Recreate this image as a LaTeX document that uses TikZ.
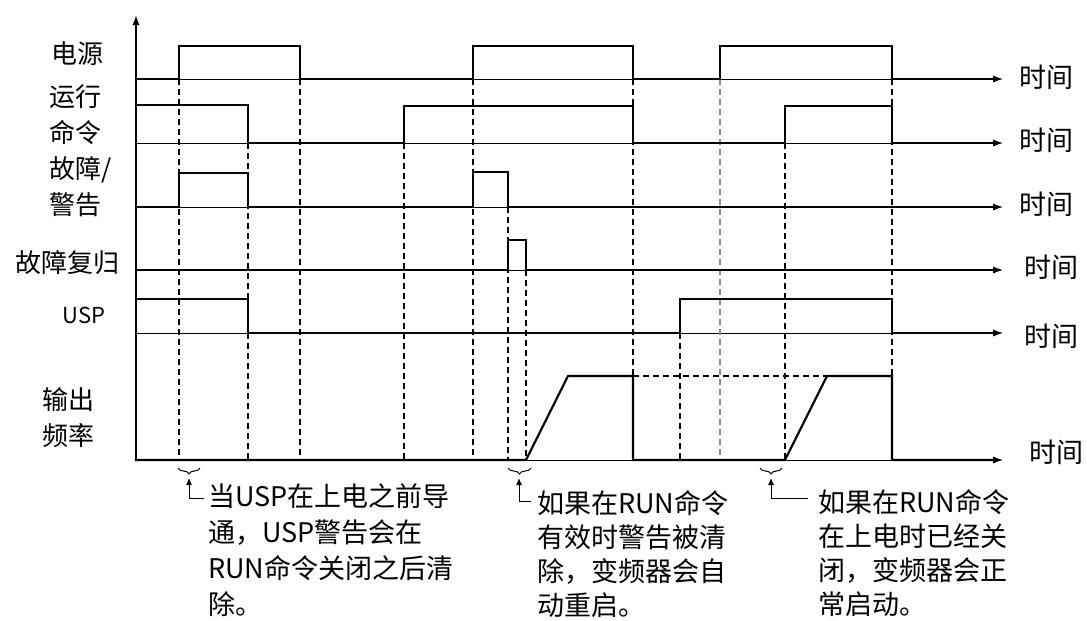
\documentclass[tikz,border=0pt]{standalone}
\usepackage{fontspec}
\setmainfont{Noto Sans CJK SC}
\usetikzlibrary{arrows.meta,decorations.pathreplacing}
\begin{document}
\begin{tikzpicture}[x=1pt,y=-1pt,
  sig/.style={line width=2.2pt,line join=miter,line cap=rect},
  base/.style={line width=0.9pt},
  tarrow/.style={base,-{Latex[length=10pt,width=7pt]}},
  guide/.style={line width=1.1pt,dash pattern=on 6pt off 4pt},
  lgray/.style={guide,draw=black!45},
  lbl/.style={font=\fontsize{26}{36}\selectfont,inner sep=0pt},
  tlbl/.style={font=\fontsize{27}{29}\selectfont,anchor=west,inner sep=0pt},
  note/.style={align=left,anchor=base west,inner sep=0pt},
  brc/.style={decorate,decoration={brace,mirror,amplitude=6pt},line width=1pt},
  narrow/.style={line width=1pt,-{Latex[length=7pt,width=6pt]}}
]
\useasboundingbox (0,0) rectangle (1087,621);

% vertical axis
\coordinate (ax0) at (136,460);
\coordinate (ax1) at (136,15);
\draw[line width=1.4pt,-{Latex[length=10pt,width=7pt]}] (ax0) -- (ax1);

% left labels
\node[lbl] (lpow) at (77,54) {电源};
\node[lbl,align=left] (lrun) at (75,115) {运行\\命令};
\node[lbl,align=left,anchor=west] (lflt) at (49,187) {故障/\\警告};
\node[lbl] (lrst) at (67,263) {故障复归};
\node[font=\fontsize{22}{24}\selectfont,inner sep=0pt] (lusp) at (84,315) {USP};
\node[lbl,align=left] (lout) at (68,418) {输出\\频率};

% time labels
\node[tlbl] (t1) at (1019,77) {时间};
\node[tlbl] (t2) at (1019,140) {时间};
\node[tlbl] (t3) at (1019,204) {时间};
\node[tlbl] (t4) at (1024,267) {时间};
\node[tlbl] (t5) at (1024,336) {时间};
\node[tlbl] (t6) at (1029,452) {时间};

% time axes (thin baselines with arrows)
\coordinate (b1s) at (136,79);  \coordinate (b1e) at (1003,79);
\coordinate (b2s) at (136,143); \coordinate (b2e) at (1003,143);
\coordinate (b3s) at (136,207); \coordinate (b3e) at (1003,207);
\coordinate (b4s) at (136,270); \coordinate (b4e) at (1003,270);
\coordinate (b5s) at (136,333); \coordinate (b5e) at (1003,333);
\coordinate (b6s) at (136,460); \coordinate (b6e) at (1003,460);
\foreach \i in {1,...,6} \draw[tarrow] (b\i s) -- (b\i e);

% guide lines
\draw[guide] (179,79) -- (179,460);
\draw[guide] (248,143) -- (248,460);
\draw[guide] (300,79) -- (300,460);
\draw[guide] (404,143) -- (404,460);
\draw[guide] (473,79) -- (473,460);
\draw[guide] (508,207) -- (508,460);
\draw[guide] (526,270) -- (526,460);
\draw[guide] (633,79) -- (633,376);
\draw[guide] (680,333) -- (680,460);
\draw[lgray] (720,79) -- (720,460);
\draw[guide] (785,143) -- (785,460);
\draw[guide] (892,79) -- (892,376);
\draw[guide] (633,376) -- (827,376);

% signal traces
\draw[sig] (136,79) -- (179,79) -- (179,46) -- (300,46) -- (300,79) -- (473,79) -- (473,46) -- (633,46) -- (633,79) -- (720,79) -- (720,46) -- (892,46) -- (892,79) -- (995,79);
\draw[sig] (136,105) -- (248,105) -- (248,143) -- (404,143) -- (404,106) -- (633,106) -- (633,143) -- (785,143) -- (785,106) -- (892,106) -- (892,143) -- (995,143);
\draw[sig] (136,207) -- (179,207) -- (179,173) -- (248,173) -- (248,207) -- (473,207) -- (473,172) -- (508,172) -- (508,207) -- (995,207);
\draw[sig] (136,270) -- (508,270) -- (508,240) -- (526,240) -- (526,270) -- (995,270);
\draw[sig] (136,299) -- (248,299) -- (248,333) -- (680,333) -- (680,299) -- (892,299) -- (892,333) -- (995,333);
\draw[sig] (136,460) -- (526,460) -- (568,376) -- (633,376) -- (633,460) -- (785,460) -- (827,376) -- (892,376) -- (892,460) -- (995,460);

% braces
\coordinate (br1a) at (178,468); \coordinate (br1b) at (200,468);
\coordinate (br2a) at (508,468); \coordinate (br2b) at (531,468);
\coordinate (br3a) at (760,468); \coordinate (br3b) at (782,468);
\draw[brc] (br1a) -- (br1b);
\draw[brc] (br2a) -- (br2b);
\draw[brc] (br3a) -- (br3b);

% notes (base anchor = baseline of last line)
\node[note,font=\fontsize{27}{36}\selectfont] (n1) at (208,614) {当USP在上电之前导\\通，USP警告会在\\RUN命令关闭之后清\\除。};
\node[note,font=\fontsize{27}{34}\selectfont] (n2) at (537,615) {如果在RUN命令\\有效时警告被清\\除，变频器会自\\动重启。};
\node[note,font=\fontsize{27}{34}\selectfont] (n3) at (818,614) {如果在RUN命令\\在上电时已经关\\闭，变频器会正\\常启动。};

% arrows from notes to braces
\coordinate (a1) at (204,498); \coordinate (p1) at (189,478);
\coordinate (a2) at (531,501); \coordinate (p2) at (519,478);
\coordinate (a3) at (808,498); \coordinate (p3) at (771,478);
\draw[narrow] (a1) -| (p1);
\draw[narrow] (a2) -| (p2);
\draw[narrow] (a3) -| (p3);
\end{tikzpicture}
\end{document}
